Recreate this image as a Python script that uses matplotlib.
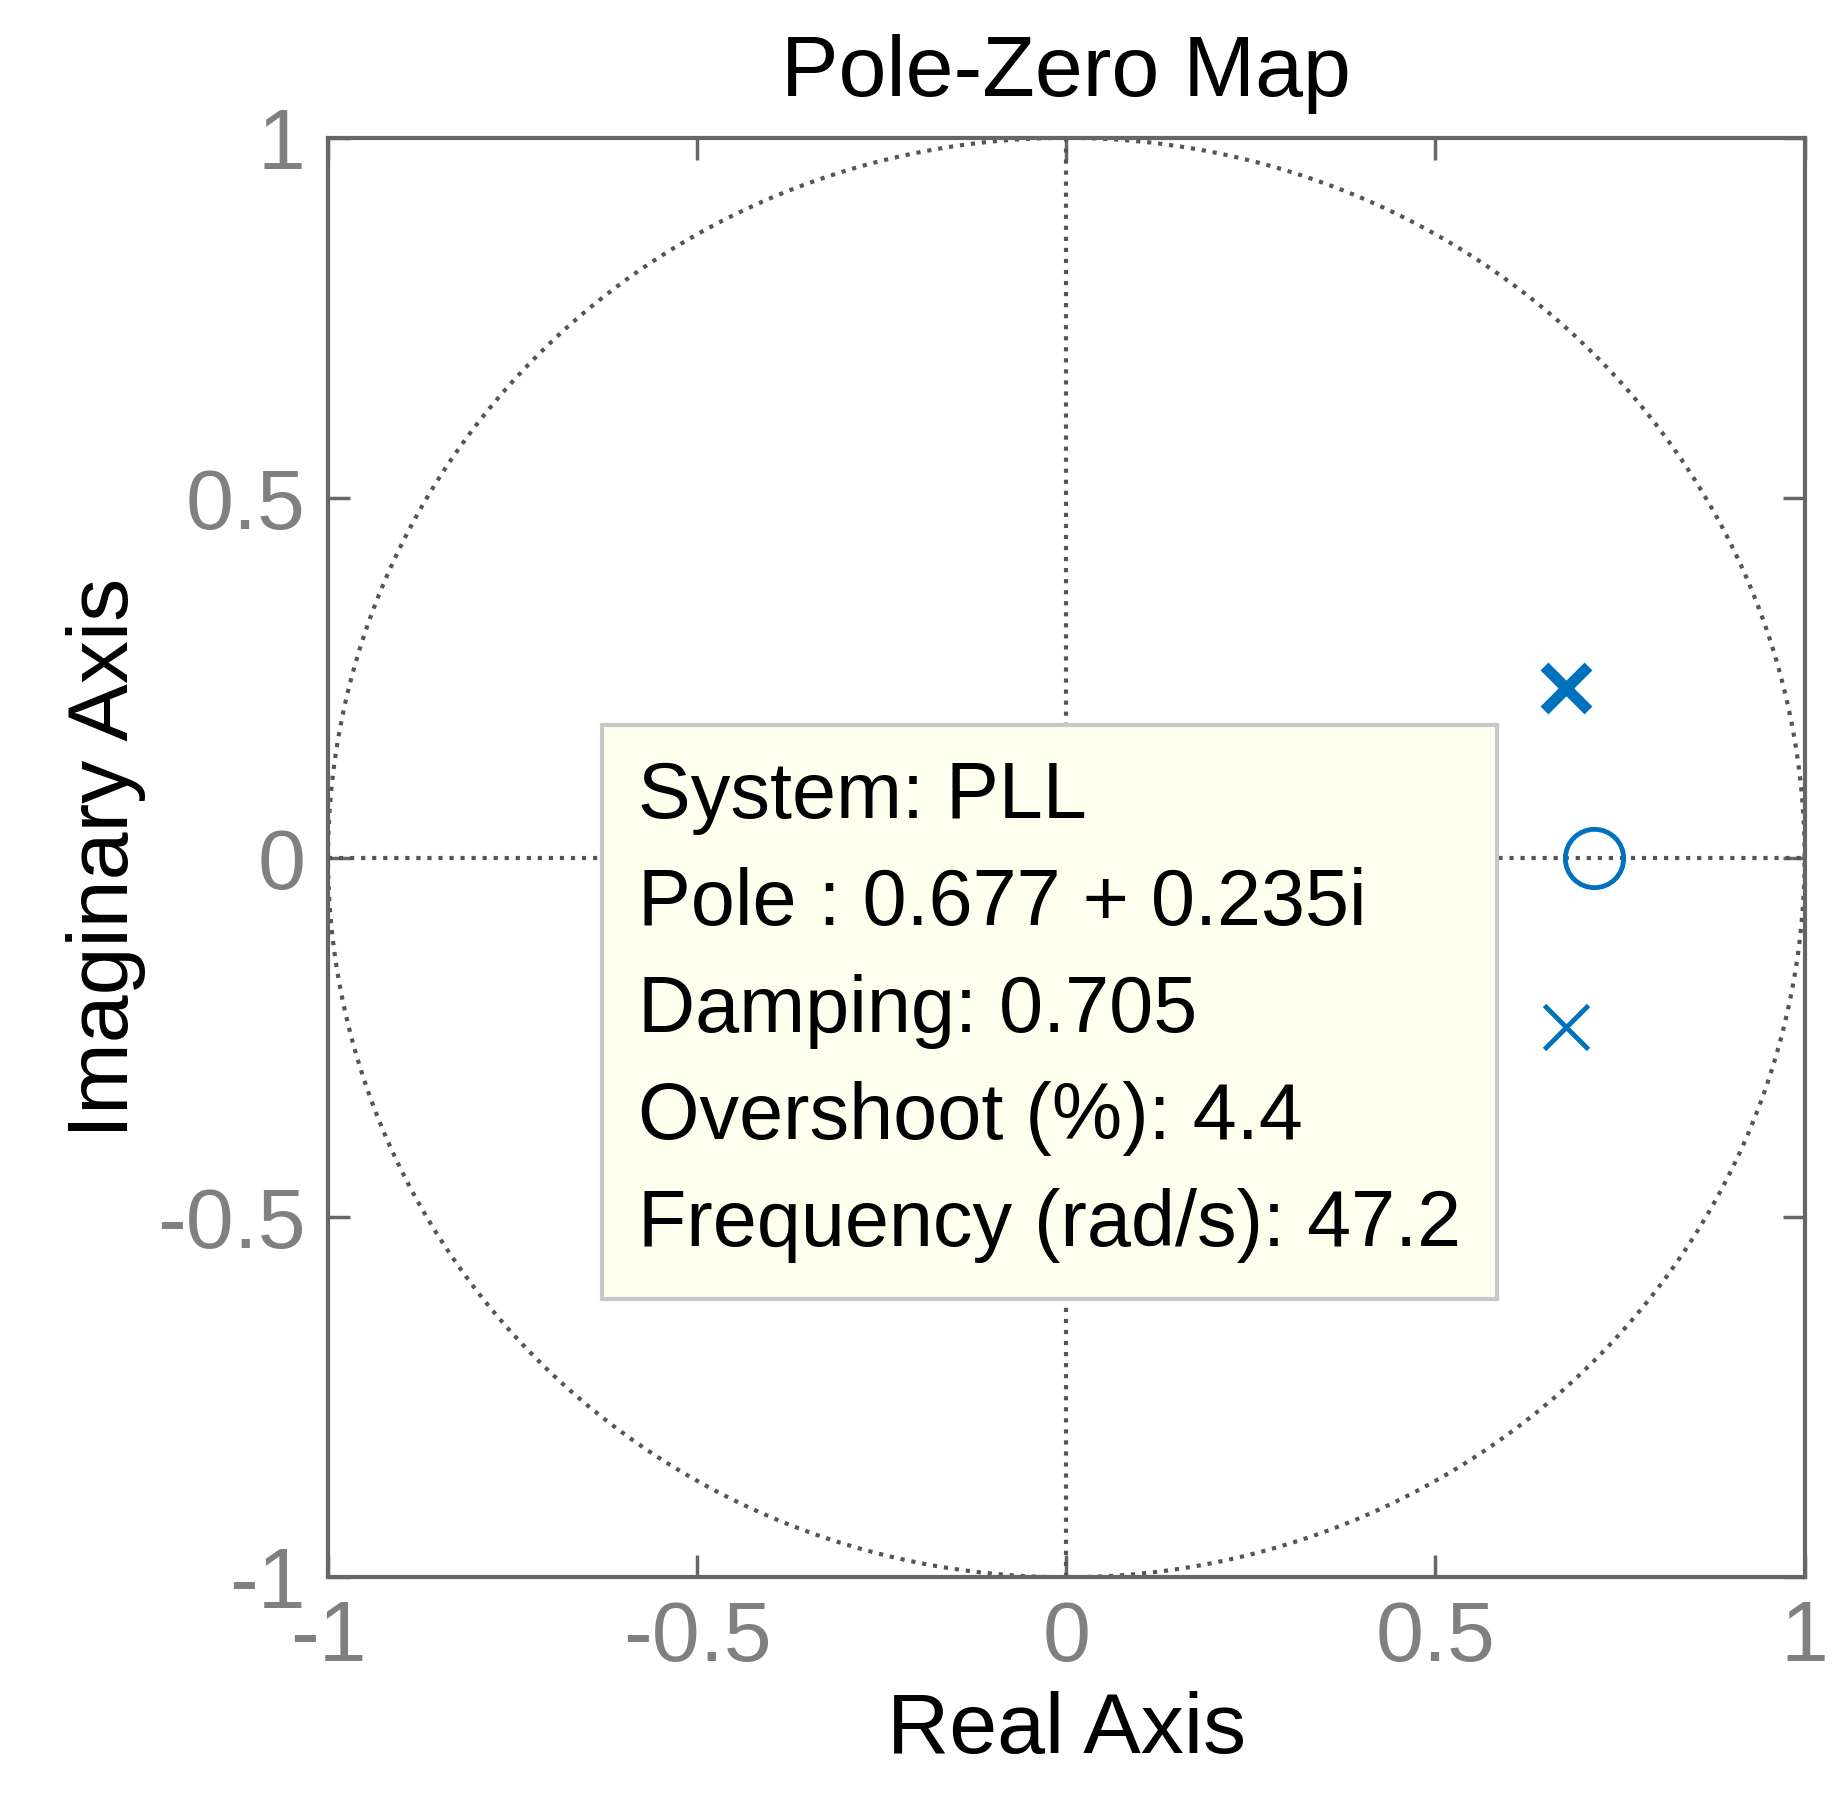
import numpy as np
import matplotlib.pyplot as plt

plt.rcParams['font.family'] = ['Liberation Sans', 'DejaVu Sans']

pole_re = [0.677, 0.677]
pole_im = [0.235, -0.235]
zero_re = [0.715]
zero_im = [0.0]
info_lines = ["System: PLL", "Pole : 0.677 + 0.235i", "Damping: 0.705",
              "Overshoot (%): 4.4", "Frequency (rad/s): 47.2"]
ticks = [-1, -0.5, 0, 0.5, 1]
tick_labels = ["-1", "-0.5", "0", "0.5", "1"]

blue = '#0072BD'
fig = plt.figure(figsize=(18.49, 18.14), dpi=100)
ax = fig.add_axes([0.1774, 0.1305, 0.7986, 0.7935])

t = np.linspace(0, 2 * np.pi, 400)
ax.plot(np.cos(t), np.sin(t), color='#555555', linestyle=':', linewidth=3)
ax.axhline(0, color='#555555', linestyle=':', linewidth=3)
ax.axvline(0, color='#555555', linestyle=':', linewidth=3)

ax.plot(pole_re[1:], pole_im[1:], linestyle='None', marker='x', color=blue, markersize=32, mew=3.5)
ax.plot(pole_re[:1], pole_im[:1], linestyle='None', marker='x', color=blue, markersize=32, mew=8)
ax.plot(zero_re, zero_im, linestyle='None', marker='o', markerfacecolor='none',
        color=blue, markersize=42, mew=3.5)

ax.text(-0.58, 0.135, "\n".join(info_lines), fontsize=57, va='top', ha='left',
        linespacing=1.55,
        bbox=dict(boxstyle='square,pad=0.45', facecolor='#FFFFF0', edgecolor='#C8C8C8', linewidth=3))

ax.set_xlim(-1, 1)
ax.set_ylim(-1, 1)
ax.set_xticks(ticks, tick_labels)
ax.set_yticks(ticks, tick_labels)
ax.tick_params(direction='in', length=16, width=2.5, top=True, right=True,
               labelsize=62, colors='#666666', labelcolor='#808080', pad=16)
for s in ax.spines.values():
    s.set_color('#666666')
    s.set_linewidth(3)
ax.set_title("Pole-Zero Map", fontsize=62, pad=30)
ax.set_xlabel("Real Axis", fontsize=62, labelpad=8)
ax.set_ylabel("Imaginary Axis", fontsize=62, labelpad=8)

fig.savefig('out.png')
